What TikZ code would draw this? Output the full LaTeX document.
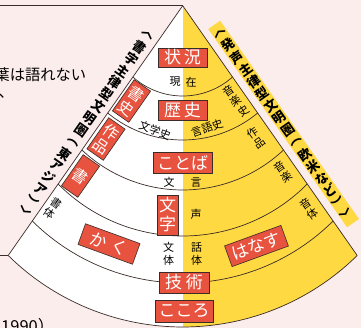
\documentclass[tikz,border=0pt]{standalone}
\usepackage{fontspec}
\newfontfamily\cjk{Noto Sans CJK JP}
\definecolor{bgpink}{HTML}{FCEDED}
\definecolor{fanyellow}{HTML}{FFD942}
\definecolor{badgered}{HTML}{E8533F}
\definecolor{inkline}{HTML}{3A2C28}
\tikzset{
  ringline/.style={draw=inkline, line width=0.7pt},
  badge/.style={fill=badgered, draw=inkline, line width=0.6pt, text=white, inner sep=0pt,
    font=\cjk\fontsize{17}{19}\selectfont, align=center},
  vbadge/.style={badge, minimum width=20, minimum height=38, rotate=-35,
    font=\cjk\fontsize{15.5}{17.5}\selectfont},
  smalllbl/.style={text=black, inner sep=0pt, font=\cjk\fontsize{11}{12.5}\selectfont, align=center},
  edgechar/.style={text=black, inner sep=0pt, font=\cjk\bfseries\fontsize{13}{13}\selectfont},
  plaintext/.style={text=black, inner sep=0pt, font=\cjk\fontsize{15.3}{16}\selectfont},
}
\begin{document}
\begin{tikzpicture}[x=1pt,y=-1pt]
\useasboundingbox (0,0) rectangle (361,328);
\fill[bgpink] (0,0) rectangle (361,328);

% fan fill
\begin{scope}
  \clip plot[domain=-44.56:44.56, samples=80] ({182.7+248.71*sin(\x)},{78.29+248.71*cos(\x)}) -- (182.7,5.7) -- cycle;
  \fill[white] (0,0) rectangle (182.7,328);
  \fill[fanyellow] (182.7,0) rectangle (361,328);
\end{scope}

% ring arcs
\foreach \arcR/\arcC/\arcA in {74.79/21.21/41.76, 117.56/22.44/39.61, 147.03/42.97/43.28,
    175.18/60.82/45.32, 213.45/69.56/44.80, 248.71/78.29/44.56}
  \draw[ringline] plot[domain=-\arcA:\arcA, samples=80] ({182.7+\arcR*sin(\x)},{\arcC+\arcR*cos(\x)});

% fan edges and frame lines
\coordinate (apex) at (182.7,5.7);
\coordinate (lcorner) at (8.19,255.5);
\coordinate (rcorner) at (357.21,255.5);
\coordinate (topleft) at (0,5.7);
\coordinate (leftstub) at (0,255.5);
\draw[ringline] (lcorner) -- (apex) -- (rcorner);
\draw[ringline] (topleft) -- (apex);
\draw[ringline] (leftstub) -- (lcorner);

% yellow band for right label
\node[fill=fanyellow, rotate=35, minimum width=14.5, minimum height=242, inner sep=0pt] (band) at (283.6,124) {};

% edge labels
\foreach \ch [count=\i from 0] in {︿,発,声,主,律,型,文,明,圏,︵,欧,米,な,ど,︶,﹀}
  \node[edgechar, rotate=35] (r\i) at ({220+\i*14.8*0.5727},{33+\i*14.8*0.8198}) {\ch};
\foreach \ch [count=\i from 0] in {︿,書,字,主,律,型,文,明,圏,︵,東,ア,ジ,ア,︶,﹀}
  \node[edgechar, rotate=-35] (l\i) at ({148-\i*14.5*0.5727},{35+\i*14.5*0.8198}) {\ch};

% centre badges
\node[badge, minimum width=49, minimum height=19] (jokyo) at (182.5,57.5) {状\kern3pt 況};
\node[badge, minimum width=49, minimum height=20] (rekishi) at (182.5,110) {歴\kern3pt 史};
\node[badge, minimum width=59, minimum height=21] (kotoba) at (182.5,162.5) {ことば};
\node[badge, minimum width=21, minimum height=40] (moji) at (167.5,215) {文\\字};
\node[badge, minimum width=50, minimum height=21] (gijutsu) at (184,282.5) {技\kern4pt 術};
\node[badge, minimum width=58, minimum height=22] (kokoro) at (184,311) {こころ};
\node[badge, minimum width=58, minimum height=22, rotate=-20] (kaku) at (109,244) {か\kern6pt く};
\node[badge, minimum width=60, minimum height=22, rotate=20] (hanasu) at (256.5,246) {はなす};

% left side badges
\node[vbadge] (shoshi) at (131.5,101) {書\\史};
\node[vbadge] (sakuhin) at (106,139) {作\\品};
\node[vbadge] (sho) at (80.5,176) {書};

% small labels
\node[smalllbl] (gen) at (175,82) {現};
\node[smalllbl] (zai) at (191,82) {在};
\node[smalllbl, rotate=-20] (bungakushi) at (155,130.5) {文学史};
\node[smalllbl, rotate=20] (gengoshi) at (207,128) {言語史};
\node[smalllbl] (bun) at (169,182) {文};
\node[smalllbl] (gen2) at (196,183) {言};
\node[smalllbl] (koe) at (196,214) {声};
\node[smalllbl, font=\cjk\fontsize{11}{13}\selectfont] (buntai) at (168.5,254) {文\\体};
\node[smalllbl, font=\cjk\fontsize{11}{13}\selectfont] (watai) at (196.5,254) {話\\体};
\node[smalllbl, rotate=35] (ongakushi) at (236,101) {音\\楽\\史};
\node[smalllbl, rotate=35] (sakuhin2) at (256,138) {作\\品};
\node[smalllbl, rotate=35] (ongaku) at (283,172) {音\\楽};
\node[smalllbl, rotate=35] (ontai) at (309,209) {音\\体};
\node[smalllbl, rotate=-35] (shotai) at (53,208.5) {書\\体};

% cut-off text at the left
\node[plaintext, anchor=east] (katarenai) at (86.5,75) {葉は語れない};
\node[plaintext, anchor=west] (ten) at (-1.5,96) {、};
\node[plaintext, anchor=north west, font=\cjk\fontsize{16.5}{17}\selectfont] (year) at (1,318.5) {1990）};
\end{tikzpicture}
\end{document}
